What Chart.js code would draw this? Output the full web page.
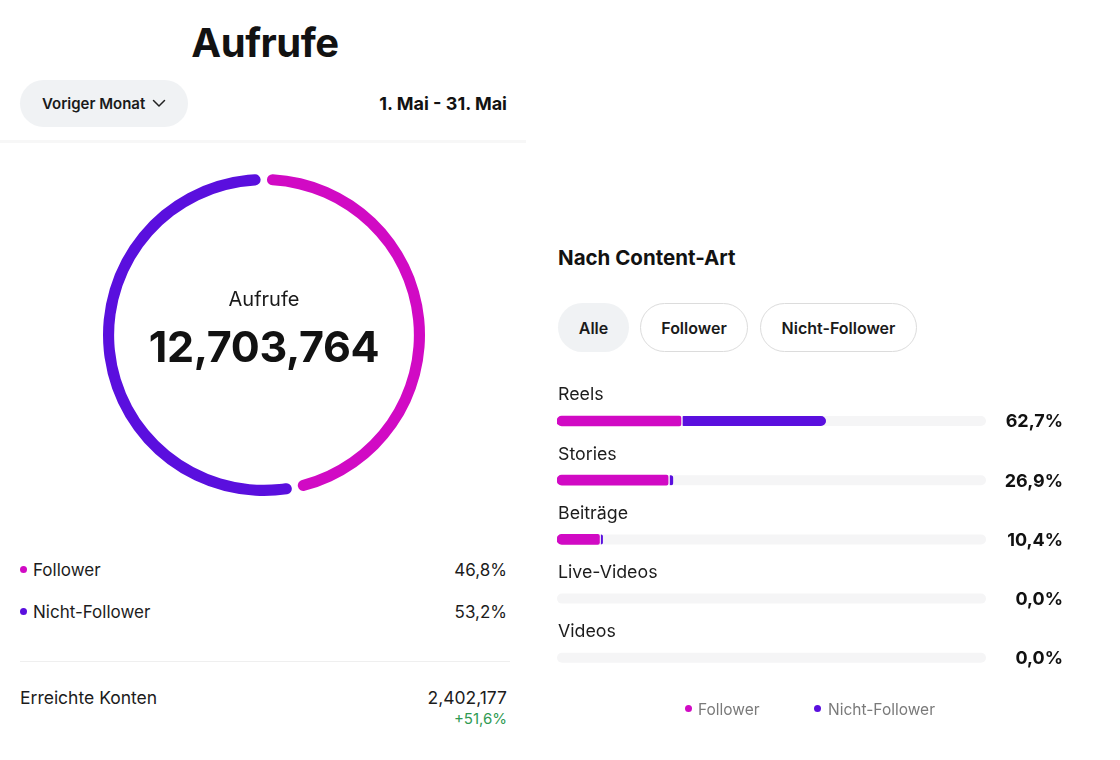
<!DOCTYPE html>
<html lang="de">
<head>
<meta charset="utf-8">
<script src="https://cdn.jsdelivr.net/npm/chart.js@4.4.1/dist/chart.umd.min.js"></script>
<style>
  html, body { margin: 0; padding: 0; background: #fff; }
  body { width: 1120px; height: 760px; position: relative; overflow: hidden; font-family: Inter, "Noto Sans", sans-serif; color: #121212; }
  .abs { position: absolute; white-space: nowrap; }
  .vc { transform: translateY(-50%); }
  .title { left: 0; width: 530px; top: 42px; text-align: center; font-size: 40px; font-weight: 700; letter-spacing: -0.5px; }
  .pill { position: absolute; border-radius: 25px; box-sizing: border-box; display: flex; align-items: center; justify-content: center; font-size: 16px; font-weight: 600; color: #1a1a1a; }
  .gray { background: #f0f2f4; }
  .outline { border: 1.5px solid #dcdcdc; background: #fff; }
  .dot { position: absolute; width: 7px; height: 7px; border-radius: 50%; }
  .row { font-size: 17px; color: #1c1c1c; }
  .r { text-align: right; }
</style>
</head>
<body>
<div class="abs title vc">Aufrufe</div>
<div class="pill gray" style="left:20px;top:80px;width:168px;height:47px;font-size:15px;">Voriger Monat&nbsp;
  <svg width="14" height="9" viewBox="0 0 14 9" style="margin-left:3px"><path d="M1.5 1.5 L7 7 L12.5 1.5" fill="none" stroke="#222" stroke-width="1.5" stroke-linecap="round" stroke-linejoin="round"/></svg></div>
<div class="abs vc" style="right:613px;top:103px;font-size:18px;font-weight:700;">1. Mai - 31. Mai</div>
<div class="abs" style="left:0;top:140px;width:526px;height:3px;background:#f7f7f7;"></div>

<div class="abs" style="left:94px;top:165px;width:340px;height:340px;"><canvas id="donut"></canvas></div>
<div class="abs vc" style="left:94px;width:340px;text-align:center;top:299px;font-size:20px;color:#1a1a1a;" id="centerLabel"></div>
<div class="abs vc" style="left:94px;width:340px;text-align:center;top:346px;font-size:43px;font-weight:700;letter-spacing:-0.3px;" id="centerValue"></div>

<div id="leftLegend"></div>
<div class="abs" style="left:20px;top:661px;width:490px;height:1px;background:#efefef;"></div>
<div class="abs vc row" style="left:20px;top:697px;font-size:17.5px;" id="reachLabel"></div>
<div class="abs vc row r" style="right:613px;top:697px;font-size:17.5px;" id="reachValue"></div>
<div class="abs vc r" style="right:613px;top:718px;font-size:15px;color:#2f9a52;" id="reachDelta"></div>

<div class="abs vc" style="left:558px;top:257px;font-size:20.5px;font-weight:700;">Nach Content-Art</div>
<div class="pill gray" style="left:558px;top:303px;width:71px;height:49px;">Alle</div>
<div class="pill outline" style="left:640px;top:303px;width:108px;height:49px;">Follower</div>
<div class="pill outline" style="left:760px;top:303px;width:157px;height:49px;">Nicht-Follower</div>

<div class="abs" style="left:540px;top:360px;width:560px;height:340px;"><canvas id="bars"></canvas></div>

<div class="dot" style="left:685px;top:705px;background:#d10ac4;"></div>
<div class="abs vc" style="left:698px;top:709px;font-size:15.5px;color:#7a7a7a;">Follower</div>
<div class="dot" style="left:814px;top:705px;background:#5a0fde;"></div>
<div class="abs vc" style="left:828px;top:709px;font-size:15.5px;color:#7a7a7a;">Nicht-Follower</div>

<script>
// ---- data ----
const audienceLabels = ["Follower", "Nicht-Follower"];
const audienceShare = [46.8, 53.2];
const audienceColors = ["#d10ac4", "#5a0fde"];
const totalViewsLabel = "Aufrufe";
const totalViews = 12703764;
const reachLabel = "Erreichte Konten";
const reachValue = 2402177;
const reachDelta = 51.6;

const contentTypes = ["Reels", "Stories", "Beiträge", "Live-Videos", "Videos"];
const followerValues = [28.9, 25.9, 9.9, 0, 0];
const nonFollowerValues = [33.8, 1.2, 0.8, 0, 0];
const contentTotals = [62.7, 26.9, 10.4, 0.0, 0.0];
const axisMax = 100;

const fmtInt = n => n.toLocaleString("en-US");
const fmtPct = v => v.toFixed(1).replace(".", ",") + "%";

document.getElementById("centerLabel").textContent = totalViewsLabel;
document.getElementById("centerValue").textContent = fmtInt(totalViews);
document.getElementById("reachLabel").textContent = reachLabel;
document.getElementById("reachValue").textContent = fmtInt(reachValue);
document.getElementById("reachDelta").textContent = "+" + reachDelta.toFixed(1).replace(".", ",") + "%";

const legendRows = [570, 612];
const ll = document.getElementById("leftLegend");
audienceLabels.forEach((lab, i) => {
  ll.insertAdjacentHTML("beforeend",
    `<div class="dot" style="left:20px;top:${legendRows[i]-4}px;background:${audienceColors[i]};"></div>` +
    `<div class="abs vc row" style="left:33px;top:${legendRows[i]}px;">${lab}</div>` +
    `<div class="abs vc row r" style="right:613px;top:${legendRows[i]}px;">${fmtPct(audienceShare[i])}</div>`);
});

// ---- doughnut ----
new Chart(document.getElementById("donut"), {
  type: "doughnut",
  data: {
    labels: audienceLabels,
    datasets: [{
      data: audienceShare,
      backgroundColor: audienceColors,
      borderWidth: 0,
      borderRadius: 6,
      spacing: 4,
      hoverOffset: 0
    }]
  },
  options: {
    responsive: true,
    maintainAspectRatio: false,
    animation: false,
    radius: 159,
    cutout: "93%",
    rotation: 0,
    layout: { padding: 0 },
    plugins: { legend: { display: false }, tooltip: { enabled: false } },
    events: []
  }
});

// ---- bars ----
const trackAndLabels = {
  id: "trackAndLabels",
  beforeDatasetsDraw(chart) {
    const { ctx, scales: { x, y } } = chart;
    ctx.save();
    ctx.fillStyle = "#f5f5f6";
    contentTypes.forEach((c, i) => {
      const cy = y.getPixelForValue(i);
      const x0 = x.getPixelForValue(0), x1 = x.getPixelForValue(axisMax);
      ctx.beginPath();
      ctx.roundRect(x0, cy - 5, x1 - x0, 10, 5);
      ctx.fill();
    });
    ctx.restore();
  },
  afterDatasetsDraw(chart) {
    const { ctx, scales: { x, y } } = chart;
    ctx.save();
    contentTypes.forEach((c, i) => {
      const cy = y.getPixelForValue(i);
      ctx.textBaseline = "middle";
      ctx.fillStyle = "#1c1c1c";
      ctx.font = "400 17.8px Inter, 'Noto Sans', sans-serif";
      ctx.textAlign = "left";
      ctx.fillText(c, x.getPixelForValue(0) + 1, cy - 26);
      ctx.fillStyle = "#111";
      ctx.font = "700 18px Inter, 'Noto Sans', sans-serif";
      ctx.textAlign = "right";
      ctx.fillText(fmtPct(contentTotals[i]), chart.width - 37, cy + 1);
    });
    ctx.restore();
  }
};

const showIfPositive = color => c => (c.raw > 0 ? color : "rgba(0,0,0,0)");

new Chart(document.getElementById("bars"), {
  type: "bar",
  data: {
    labels: contentTypes,
    datasets: [
      {
        label: audienceLabels[0],
        data: followerValues,
        backgroundColor: showIfPositive(audienceColors[0]),
        borderWidth: 0,
        borderSkipped: false,
        borderRadius: { topLeft: 5, bottomLeft: 5, topRight: 2, bottomRight: 2 },
        barThickness: 10
      },
      {
        label: audienceLabels[1],
        data: nonFollowerValues,
        backgroundColor: showIfPositive(audienceColors[1]),
        borderColor: showIfPositive("#ffffff"),
        borderWidth: c => (c.raw > 0 ? { left: 2, right: 0, top: 0, bottom: 0 } : 0),
        borderSkipped: false,
        borderRadius: { topLeft: 3, bottomLeft: 3, topRight: 5, bottomRight: 5 },
        barThickness: 10
      }
    ]
  },
  options: {
    indexAxis: "y",
    responsive: true,
    maintainAspectRatio: false,
    animation: false,
    layout: { padding: { left: 17, right: 114, top: 31.4, bottom: 12.6 } },
    scales: {
      x: { stacked: true, min: 0, max: axisMax, display: false },
      y: { stacked: true, display: false }
    },
    plugins: { legend: { display: false }, tooltip: { enabled: false } },
    events: []
  },
  plugins: [trackAndLabels]
});
</script>
</body>
</html>
